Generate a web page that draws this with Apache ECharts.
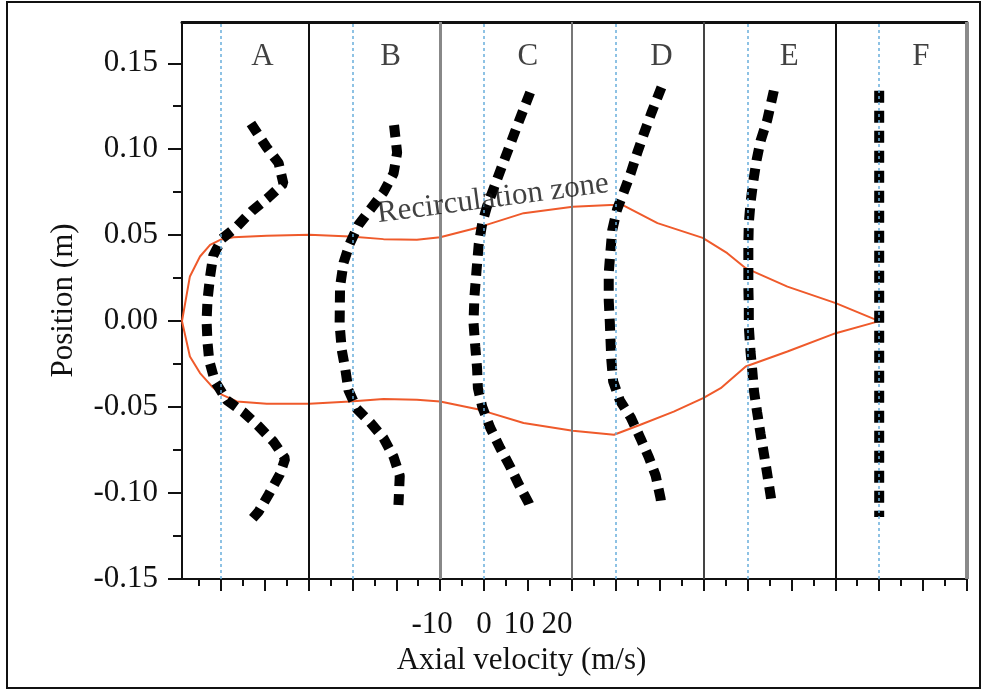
<!DOCTYPE html>
<html>
<head>
<meta charset="utf-8">
<script src="https://cdn.jsdelivr.net/npm/echarts@6/dist/echarts.min.js"></script>
<style>
  html, body { margin: 0; padding: 0; background: #fff; }
  #main { width: 987px; height: 693px; }
</style>
</head>
<body>
<div id="main"></div>
<script>
// velocity profiles at stations A-F : [axial velocity (m/s), position (m)]
const profileA = [[6.9, 0.115], [10.5, 0.101], [13.2, 0.092], [14.3, 0.080], [10.9, 0.072], [7.1, 0.064], [3.7, 0.055], [0.3, 0.048], [-1.7, 0.038], [-2.4, 0.026], [-3.0, 0.012], [-3.2, 0.0], [-3.0, -0.012], [-2.6, -0.023], [-1.3, -0.035], [1.4, -0.046], [5.2, -0.053], [8.6, -0.061], [12.0, -0.070], [14.7, -0.080], [13.5, -0.089], [10.9, -0.101], [8.6, -0.111], [7.2, -0.115]];
const profileB = [[9.5, 0.114], [10.2, 0.098], [9.4, 0.086], [7.1, 0.075], [4.1, 0.065], [1.4, 0.056], [-0.6, 0.045], [-2.0, 0.034], [-2.8, 0.020], [-2.9, -0.002], [-2.4, -0.017], [-1.6, -0.028], [-0.9, -0.040], [1.0, -0.051], [4.1, -0.059], [7.1, -0.068], [9.4, -0.079], [10.8, -0.090], [10.5, -0.107]];
const profileC = [[10.5, 0.133], [7.9, 0.116], [6.0, 0.103], [4.5, 0.093], [2.6, 0.080], [0.7, 0.067], [-0.4, 0.057], [-1.2, 0.045], [-1.7, 0.030], [-2.2, 0.014], [-2.4, -0.001], [-2.0, -0.015], [-1.6, -0.027], [-1.4, -0.039], [-0.4, -0.050], [1.4, -0.062], [3.7, -0.074], [6.0, -0.085], [7.9, -0.095], [10.2, -0.106], [10.8, -0.110]];
const profileD = [[10.4, 0.136], [8.1, 0.121], [6.4, 0.109], [4.9, 0.098], [3.4, 0.086], [1.8, 0.075], [0.3, 0.065], [-0.8, 0.053], [-1.2, 0.041], [-1.6, 0.028], [-1.6, 0.012], [-1.35, -0.001], [-1.2, -0.011], [-1.0, -0.023], [-0.6, -0.035], [0.9, -0.046], [3.4, -0.056], [5.6, -0.068], [7.5, -0.079], [9.1, -0.090], [10.2, -0.103], [10.4, -0.107]];
const profileE = [[6.0, 0.134], [4.5, 0.117], [3.0, 0.105], [2.1, 0.094], [1.3, 0.081], [0.7, 0.069], [0.3, 0.057], [0.2, 0.045], [0.2, 0.020], [0.3, 0.008], [0.3, -0.003], [0.7, -0.018], [1.1, -0.029], [1.5, -0.041], [2.2, -0.053], [3.0, -0.066], [3.8, -0.078], [4.5, -0.089], [5.3, -0.102], [5.5, -0.106]];
const profileF = [[0, 0.134], [0, 0.06], [0, 0], [0, -0.06], [0, -0.114]];

const stations = ['A', 'B', 'C', 'D', 'E', 'F'];
const profiles = [profileA, profileB, profileC, profileD, profileE, profileF];
const panelWidth = 30;      // each station spans -10 .. 20 m/s
const letterX = [9.5, 8.7, 10.0, 10.4, 9.5, 9.5];

// recirculation zone boundary, x on the shared (offset) velocity scale
const zoneUpper = [[-8.8, 0], [-7.0, 0.026], [-4.7, 0.0376], [-2.4, 0.0444], [-0.1, 0.0473], [2.9, 0.0488], [10.5, 0.0496], [20.2, 0.0502], [29.5, 0.0492], [37.1, 0.0477], [44.7, 0.0473], [50.0, 0.0488], [59.1, 0.0548], [69.0, 0.0628], [80.2, 0.0666], [88.8, 0.0676], [91.5, 0.0676], [99.5, 0.057], [109.8, 0.0484], [115.4, 0.0395], [119.6, 0.0308], [129.1, 0.0201], [140.1, 0.0105], [150.0, 0]];
const zoneLower = [[-8.8, 0], [-7.0, -0.0206], [-4.7, -0.0302], [-2.0, -0.038], [0.25, -0.0428], [3.7, -0.0467], [10.5, -0.0481], [20.2, -0.0481], [29.5, -0.0467], [37.1, -0.0453], [44.7, -0.0458], [50.0, -0.0467], [59.1, -0.0516], [69.0, -0.0593], [80.2, -0.0638], [89.6, -0.0661], [95.6, -0.0603], [103.2, -0.0526], [109.9, -0.0448], [113.9, -0.039], [119.6, -0.0264], [129.1, -0.0177], [140.1, -0.007], [150.0, 0]];

const yTicks = [-0.15, -0.10, -0.05, 0, 0.05, 0.10, 0.15];
const yMinorTicks = [-0.125, -0.075, -0.025, 0.025, 0.075, 0.125];
// only station C carries velocity labels: -10, 0, 10, 20
const xTickLabels = ['-10', '0', '10', '20'];

const chart = echarts.init(document.getElementById('main'));
const font = 'Liberation Serif';
const textColor = '#111';
const fs = 31;

let xMajor = [], xMinor = [];
for (let v = 0; v <= 170; v += 10) xMajor.push(v);
for (let v = -5; v <= 170; v += 10) xMinor.push(v);

// the original crams "10 20" together, so those two share one label box
const base = { fontSize: fs, fontFamily: font, color: textColor };
const rich = {
  m: Object.assign({ padding: [0, 16, 0, 0] }, base),
  z: Object.assign({}, base),
  a: Object.assign({ padding: [0, 7, 0, 20] }, base),
  b: Object.assign({}, base)
};
function xLabel(v) {
  if (v === 50) return '{m|' + xTickLabels[0] + '}';
  if (v === 60) return '{z|' + xTickLabels[1] + '}';
  if (v === 70) return '{a|' + xTickLabels[2] + '}{b|' + xTickLabels[3] + '}';
  return '';
}

let series = [];

// panel separators and zero lines
const sepStyles = [
  { color: '#111', width: 2 },
  { color: '#888', width: 3 },
  { color: '#777', width: 2 },
  { color: '#444', width: 2 },
  { color: '#111', width: 2 },
  { color: '#8a8a8a', width: 4 }
];
let lines = [];
stations.forEach((s, k) => {
  lines.push({ xAxis: k * panelWidth, lineStyle: { color: '#6aaedb', width: 1.5, type: [3, 3] } });
  lines.push({ xAxis: k * panelWidth + 20, lineStyle: Object.assign({ type: 'solid' }, sepStyles[k]) });
});
series.push({
  type: 'line',
  data: [],
  z: 1,
  markLine: { silent: true, symbol: ['none', 'none'], label: { show: false }, animation: false, data: lines }
});

[zoneUpper, zoneLower].forEach(z => {
  series.push({
    type: 'line',
    data: z,
    showSymbol: false,
    z: 2,
    lineStyle: { color: '#ef5a2b', width: 2 }
  });
});

profiles.forEach((p, k) => {
  series.push({
    name: stations[k],
    type: 'line',
    data: p.map(d => [d[0] + k * panelWidth, d[1]]),
    showSymbol: false,
    z: 3,
    lineStyle: { color: '#000', width: 10, type: [12, 8], cap: 'butt' }
  });
});

series.push({
  type: 'scatter',
  symbolSize: 0,
  z: 4,
  data: stations.map((s, k) => [letterX[k] + k * panelWidth, 0.1537, s]),
  label: {
    show: true, position: 'inside', formatter: p => p.data[2],
    fontSize: fs, fontFamily: font, color: textColor
  }
});

series.push({
  type: 'scatter',
  symbolSize: 0,
  z: 5,
  data: [[62.0, 0.0711]],
  label: {
    show: true, position: 'inside', formatter: 'Recirculation zone', rotate: 7.5,
    fontSize: fs, fontFamily: font, color: textColor
  }
});

const option = {
  animation: false,
  backgroundColor: '#fff',
  grid: { left: 182, right: 20, top: 22, bottom: 114 },
  graphic: [{
    type: 'rect',
    shape: { x: 7, y: 2, width: 973, height: 686 },
    style: { fill: 'none', stroke: '#111', lineWidth: 2 },
    silent: true
  }],
  xAxis: [{
    type: 'value', min: -8.8, max: 170, position: 'bottom',
    splitLine: { show: false },
    axisLine: { onZero: false, lineStyle: { color: '#111', width: 2 } },
    axisTick: { show: true, length: 12, customValues: xMajor, lineStyle: { color: '#111', width: 2 } },
    axisLabel: {
      customValues: [50, 60, 70], margin: 30,
      showMinLabel: true, showMaxLabel: true,
      fontSize: fs, fontFamily: font, color: textColor,
      formatter: xLabel,
      rich: rich
    },
    name: 'Axial velocity (m/s)', nameLocation: 'middle', nameGap: 63,
    nameTextStyle: { fontSize: fs, fontFamily: font, color: textColor, padding: [0, 106, 0, 0] }
  }, {
    type: 'value', min: -8.8, max: 170, position: 'bottom',
    splitLine: { show: false },
    axisLine: { show: false, onZero: false },
    axisTick: { show: true, length: 7, customValues: xMinor, lineStyle: { color: '#111', width: 2 } },
    axisLabel: { show: false }
  }, {
    type: 'value', min: -8.8, max: 170, position: 'top',
    splitLine: { show: false },
    axisLine: { onZero: false, lineStyle: { color: '#111', width: 3 } },
    axisTick: { show: false },
    axisLabel: { show: false }
  }],
  yAxis: [{
    type: 'value', min: -0.15, max: 0.174,
    splitLine: { show: false },
    axisLine: { onZero: false, lineStyle: { color: '#111', width: 2 } },
    axisTick: { show: true, length: 14, customValues: yTicks, lineStyle: { color: '#111', width: 2 } },
    axisLabel: {
      customValues: yTicks, margin: 24,
      fontSize: fs, fontFamily: font, color: textColor,
      formatter: v => v.toFixed(2)
    },
    name: 'Position (m)', nameLocation: 'middle', nameGap: 103, nameRotate: 90,
    nameTextStyle: { fontSize: fs, fontFamily: font, color: textColor }
  }, {
    type: 'value', min: -0.15, max: 0.174, position: 'left',
    splitLine: { show: false },
    axisLine: { show: false, onZero: false },
    axisTick: { show: true, length: 9, customValues: yMinorTicks, lineStyle: { color: '#111', width: 2 } },
    axisLabel: { show: false }
  }],
  series: series
};

chart.setOption(option);
</script>
</body>
</html>
